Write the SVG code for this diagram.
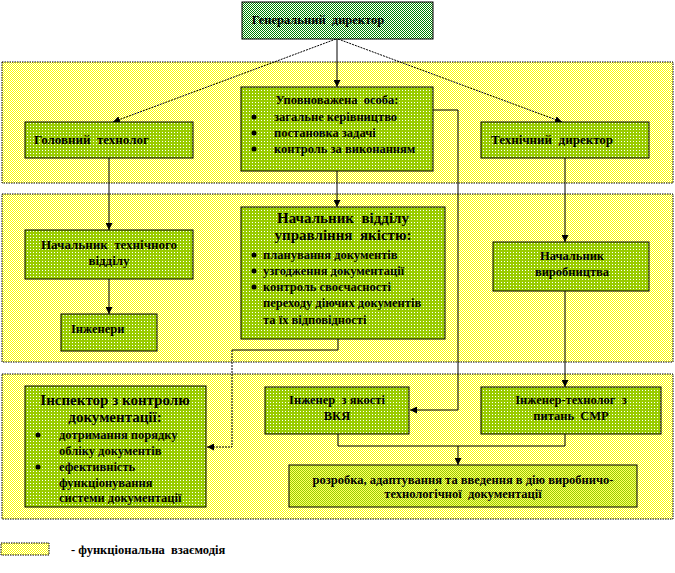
<svg xmlns="http://www.w3.org/2000/svg" width="675" height="573" viewBox="0 0 675 573">
<defs>
<pattern id="py" width="2" height="2" patternUnits="userSpaceOnUse"><rect width="2" height="2" fill="#ffffff"/><rect width="1" height="1" fill="#ffff00"/><rect x="1" y="1" width="1" height="1" fill="#ffff00"/></pattern>
<pattern id="pg" width="3" height="3" patternUnits="userSpaceOnUse"><rect width="3" height="3" fill="#99cc00"/><rect width="1" height="1" fill="#ffffff"/></pattern>
<pattern id="pd" width="2" height="2" patternUnits="userSpaceOnUse"><rect width="2" height="2" fill="#ffffff"/><rect width="1" height="1" fill="#008000"/><rect x="1" y="1" width="1" height="1" fill="#008000"/></pattern>
<pattern id="pl" width="2" height="2" patternUnits="userSpaceOnUse"><rect width="2" height="2" fill="#ffff66"/><rect width="1" height="1" fill="#99cc00"/><rect x="1" y="1" width="1" height="1" fill="#99cc00"/></pattern>
<marker id="ar" viewBox="0 0 8 8" refX="8" refY="4" markerWidth="7" markerHeight="7" markerUnits="userSpaceOnUse" orient="auto"><path d="M0,0 L8,4 L0,8 z" fill="#000"/></marker>
</defs>
<style>
.band{fill:url(#py);stroke:#000;stroke-width:1;stroke-dasharray:1.5,1}
.box{fill:url(#pg);stroke:#000;stroke-width:1}
.t{font-family:"Liberation Serif","DejaVu Serif",serif;font-weight:bold;font-size:12.5px;fill:#000;white-space:pre}
.tm{font-size:13px}
.tl{font-family:"Liberation Serif","DejaVu Serif",serif;font-weight:bold;font-size:15px;fill:#000;white-space:pre}
.c{text-anchor:middle}
.ln{fill:none;stroke:#000;stroke-width:1}
.dl{fill:none;stroke:#000;stroke-width:1;stroke-dasharray:2,1}
</style>
<rect class="band" x="2" y="62" width="671" height="121"/>
<rect class="band" x="2" y="194" width="671" height="168"/>
<rect class="band" x="2" y="374" width="671" height="145"/>

<g id="connectors">
<line class="ln" x1="337" y1="39" x2="337" y2="87" marker-end="url(#ar)"/>
<line class="dl" x1="336" y1="39" x2="113" y2="122" marker-end="url(#ar)"/>
<line class="dl" x1="338" y1="39" x2="562" y2="122" marker-end="url(#ar)"/>
<line class="ln" x1="109" y1="158" x2="109" y2="230" marker-end="url(#ar)"/>
<line class="ln" x1="109" y1="279" x2="109" y2="314" marker-end="url(#ar)"/>
<line class="ln" x1="337" y1="171" x2="337" y2="207" marker-end="url(#ar)"/>
<polyline class="ln" points="433,110 458,110 458,410 410,410" marker-end="url(#ar)"/>
<line class="ln" x1="565" y1="158" x2="565" y2="242" marker-end="url(#ar)"/>
<line class="ln" x1="565" y1="291" x2="565" y2="387" marker-end="url(#ar)"/>
<polyline class="ln" points="338,339 338,350 232,350"/>
<polyline class="dl" points="232,350 232,447 207,447" marker-end="url(#ar)"/>
<polyline class="ln" points="338,434 338,446 565,446 565,434"/>
<line class="ln" x1="458" y1="446" x2="458" y2="465" marker-end="url(#ar)"/>
</g>

<g id="gen-dir">
<rect x="242" y="2" width="191" height="37" fill="url(#pd)" stroke="#000"/>
<text class="t c" x="318" y="24" font-size="13.5">Генеральний  директор</text>
</g>

<g id="upovn">
<rect class="box" x="241" y="87" width="192" height="84"/>
<text class="t c" x="337" y="104" font-size="13">Уповноважена  особа:</text>
<circle cx="254" cy="117" r="2.5"/><text class="t" x="274" y="121">загальне керівництво</text>
<circle cx="254" cy="133" r="2.5"/><text class="t" x="274" y="137">постановка задачі</text>
<circle cx="254" cy="149" r="2.5"/><text class="t" x="274" y="153">контроль за виконанням</text>
</g>

<g id="gol-tech">
<rect class="box" x="25" y="122" width="168" height="36"/>
<text class="t tm" x="34" y="144">Головний  технолог</text>
</g>

<g id="tech-dir">
<rect class="box" x="481" y="122" width="168" height="36"/>
<text class="t tm" x="491" y="144">Технічний  директор</text>
</g>

<g id="nach-tech">
<rect class="box" x="25" y="230" width="168" height="49"/>
<text class="t tm c" x="109" y="249">Начальник  технічного</text>
<text class="t tm c" x="109" y="265">відділу</text>
</g>

<g id="inzh">
<rect class="box" x="61" y="314" width="96" height="37"/>
<text class="t" x="71" y="333">Інженери</text>
</g>

<g id="nach-yak">
<rect class="box" x="241" y="207" width="204" height="132"/>
<text class="tl c" x="343" y="223">Начальник  відділу</text>
<text class="tl c" x="343" y="240">управління  якістю:</text>
<circle cx="254" cy="255" r="2.5"/><text class="t" x="263" y="259">планування документів</text>
<circle cx="254" cy="271" r="2.5"/><text class="t" x="263" y="275">узгодження документації</text>
<circle cx="254" cy="287" r="2.5"/><text class="t" x="263" y="291">контроль своєчасності</text>
<text class="t" x="263" y="307">переходу діючих документів</text>
<text class="t" x="263" y="324">та їх відповідності</text>
</g>

<g id="nach-vyr">
<rect class="box" x="493" y="242" width="156" height="49"/>
<text class="t c" x="572" y="260">Начальник</text>
<text class="t c" x="572" y="276">виробництва</text>
</g>

<g id="inspektor">
<rect class="box" x="25" y="386" width="181" height="121"/>
<text class="tl c" x="115" y="405">Інспектор з контролю</text>
<text class="tl c" x="115" y="422">документації:</text>
<circle cx="38" cy="435" r="2.5"/><text class="t" x="59" y="439">дотримання порядку</text>
<text class="t" x="59" y="455">обліку документів</text>
<circle cx="38" cy="467" r="2.5"/><text class="t" x="59" y="471">ефективність</text>
<text class="t" x="59" y="487">функціонування</text>
<text class="t" x="59" y="502">системи документації</text>
</g>

<g id="inzh-yak">
<rect class="box" x="265" y="387" width="144" height="47"/>
<text class="t c" x="337" y="404">Інженер  з якості</text>
<text class="t c" x="337" y="420">ВКЯ</text>
</g>

<g id="inzh-tech">
<rect class="box" x="481" y="387" width="180" height="47"/>
<text class="t c" x="571" y="404">Інженер-технолог  з</text>
<text class="t c" x="571" y="420">питань  СМР</text>
</g>

<g id="rozrobka">
<rect x="289" y="465" width="348" height="42" fill="url(#pl)" stroke="#000"/>
<text class="t c" x="463" y="484">розробка, адаптування та введення в дію виробничо-</text>
<text class="t c" x="463" y="498">технологічної  документації</text>
</g>

<g id="legend">
<rect class="band" x="1" y="543" width="48" height="12"/>
<text class="t" x="71" y="554" font-size="14">- функціональна  взаємодія</text>
</g>
</svg>
